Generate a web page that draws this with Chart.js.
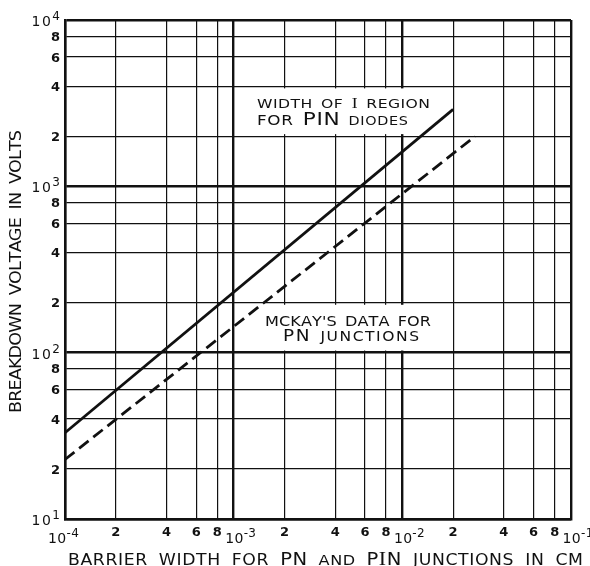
<!DOCTYPE html>
<html>
<head>
<meta charset="utf-8">
<script src="https://cdn.jsdelivr.net/npm/chart.js@4/dist/chart.umd.min.js"></script>
<style>
  html, body { margin: 0; padding: 0; background: #fff; }
  canvas { display: block; }
</style>
</head>
<body>
<canvas id="chart" width="590" height="566"></canvas>
<script>
// Breakdown voltage (V) against barrier width (cm), log-log
const pinWidthCm   = [1e-4, 2e-2];
const pinVolts     = [33, 2900];
const mckayWidthCm = [1e-4, 2.7e-2];
const mckayVolts   = [22.8, 2000];

// Grid / tick positions and their labels ("10^n" marks a decade)
const xTickValues = [1e-4, 2e-4, 4e-4, 6e-4, 8e-4, 1e-3, 2e-3, 4e-3, 6e-3, 8e-3,
                     1e-2, 2e-2, 4e-2, 6e-2, 8e-2, 1e-1];
const xTickLabels = ['10^-4', '2', '4', '6', '8', '10^-3', '2', '4', '6', '8',
                     '10^-2', '2', '4', '6', '8', '10^-1'];
const yTickValues = [10, 20, 40, 60, 80, 100, 200, 400, 600, 800,
                     1000, 2000, 4000, 6000, 8000, 10000];
const yTickLabels = ['10^1', '2', '4', '6', '8', '10^2', '2', '4', '6', '8',
                     '10^3', '2', '4', '6', '8', '10^4'];

const yTitle = 'BREAKDOWN VOLTAGE IN VOLTS';
const pinLabel = ['WIDTH OF I REGION', 'FOR PIN DIODES'];
const mckayLabel = ["MCKAY'S DATA FOR", 'PN JUNCTIONS'];

const INK = '#111';
const SANS = '"DejaVu Sans", sans-serif';
const SERIF = '"Liberation Serif", "DejaVu Serif", serif';
const f = (size, weight) => (weight ? weight + ' ' : '') + size + 'px ' + SANS;

const isDecade = v => Math.abs(Math.log10(v) - Math.round(Math.log10(v))) < 1e-6;
const gridWidth = c => (c.tick && isDecade(c.tick.value)) ? 2.4 : 1.2;

// Draw a sequence of text runs (mixed fonts) letter by letter, with tracking
// and an optional horizontal stretch of the glyphs.
function runsLength(ctx, runs, wordGap, sx) {
  let w = 0, n = 0;
  for (const r of runs) {
    ctx.font = r.font;
    for (const ch of r.text) {
      w += ctx.measureText(ch).width * sx + (ch === ' ' ? wordGap : 0);
      n++;
    }
  }
  return { w, n };
}
function drawRuns(ctx, runs, x, y, o) {
  const wordGap = o.wordGap || 0;
  const sx = o.stretch || 1;
  const m = runsLength(ctx, runs, wordGap, sx);
  let spacing = o.spacing || 0;
  if (o.width) spacing = (o.width - m.w) / Math.max(1, m.n - 1);
  const total = m.w + spacing * (m.n - 1);
  let cx = o.align === 'center' ? x - total / 2 : o.align === 'right' ? x - total : x;
  ctx.textAlign = 'left';
  ctx.textBaseline = 'alphabetic';
  for (const r of runs) {
    ctx.font = r.font;
    for (const ch of r.text) {
      ctx.save();
      ctx.translate(cx, y + (r.dy || 0));
      ctx.scale(sx, 1);
      ctx.fillText(ch, 0, 0);
      ctx.restore();
      cx += ctx.measureText(ch).width * sx + spacing + (ch === ' ' ? wordGap : 0);
    }
  }
}
// "10^-3" -> base + raised exponent runs
function tickRuns(label, size, supSize) {
  const [base, exp] = label.split('^');
  if (exp === undefined) return [{ text: base, font: f(size, 'bold') }];
  return [{ text: base, font: f(size) }, { text: exp, font: f(supSize), dy: -6 }];
}

const paperPlugin = {
  id: 'paper',
  beforeDatasetsDraw(chart) {
    // blank panels behind the two curve captions
    const { ctx, scales: { x, y } } = chart;
    ctx.save();
    ctx.fillStyle = '#fff';
    const panel = (x0, x1, y0, y1) => {
      const l = x.getPixelForValue(x0), r = x.getPixelForValue(x1);
      const t = y.getPixelForValue(y1), b = y.getPixelForValue(y0);
      ctx.fillRect(l, t, r - l, b - t);
    };
    panel(1.04e-3, 1.95e-2, 2060, 3880);
    panel(1.04e-3, 1.95e-2, 103, 194);
    ctx.restore();
  },
  afterDraw(chart) {
    const { ctx, scales: { x, y } } = chart;
    ctx.save();
    ctx.fillStyle = INK;

    // x tick labels
    xTickValues.forEach((v, i) => {
      const px = x.getPixelForValue(v);
      const lab = xTickLabels[i];
      if (lab.includes('^')) {
        ctx.font = f(14);
        const bw = ctx.measureText('10').width;
        const left = px + (i === 0 ? -8 : 0.5) - bw / 2;
        drawRuns(ctx, tickRuns(lab, 14, 12), left, 543, { spacing: 0.3 });
      } else {
        drawRuns(ctx, tickRuns(lab, 13), px, 535.5, { align: 'center' });
      }
    });

    // y tick labels
    yTickValues.forEach((v, i) => {
      const py = y.getPixelForValue(v);
      const lab = yTickLabels[i];
      if (lab.includes('^')) {
        drawRuns(ctx, tickRuns(lab, 14, 12), 60, py + 6, { align: 'right', spacing: 1.5 });
      } else {
        drawRuns(ctx, tickRuns(lab, 13), 60, py + 4.7, { align: 'right' });
      }
    });

    // axis titles
    drawRuns(ctx, [
      { text: 'BARRIER WIDTH FOR ', font: f(15) },
      { text: 'PN', font: f(17) },
      { text: ' AND ', font: f(14) },
      { text: 'P', font: f(17) },
      { text: 'I', font: '19px ' + SERIF },
      { text: 'N', font: f(17) },
      { text: ' JUNCTIONS IN CM', font: f(15) }
    ], 325.5, 565, { align: 'center', width: 515, wordGap: 5, stretch: 1.15 });

    ctx.save();
    ctx.translate(21, 271.5);
    ctx.rotate(-Math.PI / 2);
    drawRuns(ctx, [{ text: yTitle, font: f(16) }], 0, 0,
      { align: 'center', width: 283, wordGap: 4, stretch: 1.1 });
    ctx.restore();

    // curve captions
    drawRuns(ctx, [
      { text: 'WIDTH OF ', font: f(12.5) },
      { text: 'I', font: '14px ' + SERIF },
      { text: ' REGION', font: f(12.5) }
    ], 257, 108, { width: 173, wordGap: 3, stretch: 1.25 });
    drawRuns(ctx, [
      { text: 'FOR ', font: f(14) },
      { text: 'PIN', font: f(18) },
      { text: ' DIODES', font: f(12) }
    ], 257, 124.5, { width: 151, wordGap: 3, stretch: 1.2 });
    drawRuns(ctx, [{ text: mckayLabel[0], font: f(14) }], 348, 325.5,
      { align: 'center', width: 166, wordGap: 3, stretch: 1.15 });
    drawRuns(ctx, [
      { text: 'PN', font: f(16) },
      { text: ' JUNCTIONS', font: f(13.5) }
    ], 351, 341, { align: 'center', width: 136, wordGap: 3, stretch: 1.15 });

    ctx.restore();
  }
};

const toPoints = (xs, ys) => xs.map((v, i) => ({ x: v, y: ys[i] }));

new Chart(document.getElementById('chart'), {
  type: 'line',
  data: {
    datasets: [
      {
        label: pinLabel.join(' '),
        data: toPoints(pinWidthCm, pinVolts),
        borderColor: INK,
        borderWidth: 2.8,
        pointRadius: 0,
        fill: false
      },
      {
        label: mckayLabel.join(' '),
        data: toPoints(mckayWidthCm, mckayVolts),
        borderColor: INK,
        borderWidth: 2.8,
        borderDash: [12, 6],
        pointRadius: 0,
        fill: false
      }
    ]
  },
  options: {
    responsive: false,
    animation: false,
    events: [],
    layout: { padding: { left: 65, right: 19, top: 20, bottom: 47 } },
    plugins: { legend: { display: false }, tooltip: { enabled: false } },
    scales: {
      x: {
        type: 'logarithmic',
        min: 1e-4, max: 1e-1,
        afterBuildTicks: s => { s.ticks = xTickValues.map(v => ({ value: v, major: isDecade(v) })); },
        ticks: { display: false },
        grid: { color: INK, lineWidth: gridWidth, drawTicks: false, tickLength: 0 },
        border: { display: true, color: INK, width: 2.4 }
      },
      y: {
        type: 'logarithmic',
        min: 10, max: 10000,
        afterBuildTicks: s => { s.ticks = yTickValues.map(v => ({ value: v, major: isDecade(v) })); },
        ticks: { display: false },
        grid: { color: INK, lineWidth: gridWidth, drawTicks: false, tickLength: 0 },
        border: { display: true, color: INK, width: 2.4 }
      }
    }
  },
  plugins: [paperPlugin]
});
</script>
</body>
</html>
